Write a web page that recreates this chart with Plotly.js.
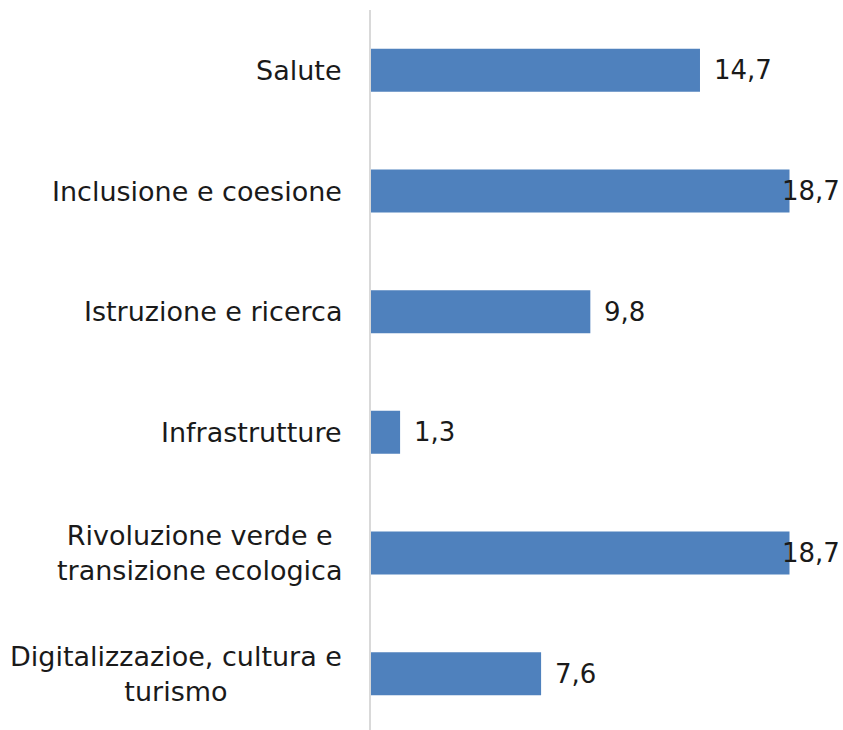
<!DOCTYPE html>
<html>
<head>
<meta charset="utf-8">
<script src="https://cdn.plot.ly/plotly-3.0.1.min.js"></script>
<style>html,body{margin:0;padding:0;overflow:hidden;background:#fff;}</style>
</head>
<body>
<div id="chart" style="width:843px;height:734px;"></div>
<script>
const categories = [
  "Salute",
  "Inclusione e coesione",
  "Istruzione e ricerca",
  "Infrastrutture",
  "Rivoluzione verde e<br>transizione ecologica",
  "Digitalizzazioe, cultura e<br>turismo"
];
const values = [14.7, 18.7, 9.8, 1.3, 18.7, 7.6];
const valueLabels = ["14,7", "18,7", "9,8", "1,3", "18,7", "7,6"];

const FONT = "DejaVu Sans, sans-serif";
const TXT = "#1a1a1a";
const W = 843, H = 734, L = 371, R = 0, T = 10, B = 0;
const xMax = 21.09;
const plotW = W - L - R;
const scale = plotW / xMax;
const catSize = 27;
const valSize = 26;

const annotations = [];
categories.forEach((c, i) => {
  annotations.push({
    xref: "paper", yref: "y", x: 0, y: i, text: c,
    xanchor: "right", yanchor: "middle", align: "center",
    xshift: -27, showarrow: false,
    font: {family: FONT, size: catSize, color: TXT}
  });
});
values.forEach((v, i) => {
  const estW = valueLabels[i].length * 0.56 * valSize;
  const shift = Math.min(12, plotW - 5 - estW - v * scale);
  annotations.push({
    xref: "x", yref: "y", x: v, y: i, text: valueLabels[i],
    xanchor: "left", yanchor: "middle", xshift: shift, showarrow: false,
    font: {family: FONT, size: valSize, color: TXT}
  });
});

const trace = {
  type: "bar", orientation: "h",
  x: values, y: categories.map((c, i) => i),
  marker: {color: "#4f81bd"},
  hoverinfo: "skip"
};

const layout = {
  width: W, height: H,
  margin: {l: L, r: R, t: T, b: B, pad: 0},
  paper_bgcolor: "#ffffff", plot_bgcolor: "#ffffff",
  bargap: 0.644,
  showlegend: false,
  xaxis: {range: [0, xMax], visible: false, fixedrange: true},
  yaxis: {
    type: "linear", range: [5.5, -0.5], showticklabels: false,
    showgrid: false, zeroline: false, ticks: "",
    showline: true, linecolor: "#d9d9d9", linewidth: 2
  },
  annotations: annotations
};

Plotly.newPlot("chart", [trace], layout, {displayModeBar: false, staticPlot: true});
</script>
</body>
</html>
